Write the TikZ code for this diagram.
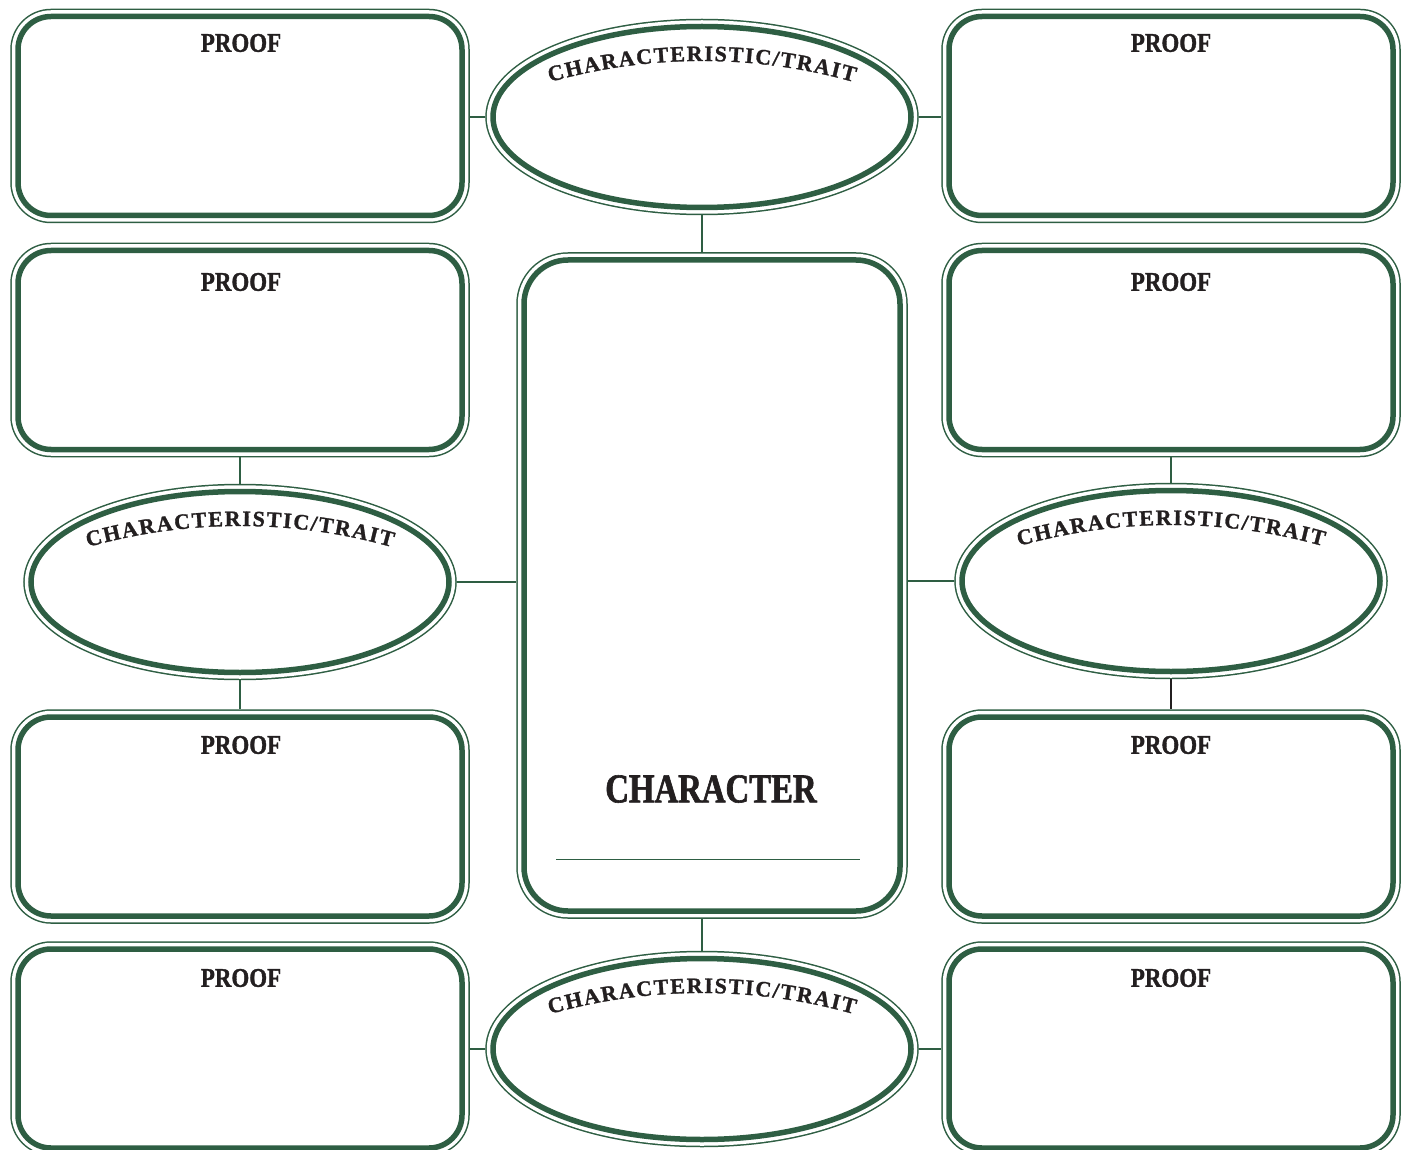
\documentclass[tikz,border=0pt]{standalone}
\usepackage{fontspec}
\usetikzlibrary{shapes.geometric,decorations.text}
\newfontfamily\stencilfont{Liberation Serif}[FakeStretch=0.85,FakeBold=1.2]
\newfontfamily\bigstencilfont{Liberation Serif}[FakeStretch=0.8,FakeBold=1.5]
\newfontfamily\arcfont{Liberation Serif}[FakeBold=1.2]
\definecolor{tg}{RGB}{46,94,67}
\definecolor{ink}{RGB}{35,31,32}
\tikzset{
  dbl/.style={fill=white, draw=tg, line width=5.5pt, outer sep=7.75pt,
    preaction={draw=tg, line width=15.5pt},
    preaction={draw=white, line width=12.5pt}},
  proofbox/.style={dbl, rectangle, rounded corners=33pt, minimum width=444pt, minimum height=199pt, inner sep=0pt},
  traitell/.style={dbl, ellipse, minimum width=418pt, minimum height=181pt, inner sep=0pt},
  charbox/.style={dbl, rectangle, rounded corners=44pt, minimum width=376pt, minimum height=651pt, inner sep=0pt},
  link/.style={draw=tg, line width=1.8pt},
  darklink/.style={draw=ink, line width=1.8pt},
  prooflbl/.style={text=ink, inner sep=0pt, font=\stencilfont\bfseries\fontsize{27}{27}\selectfont},
  charlbl/.style={text=ink, inner sep=0pt, font=\bigstencilfont\bfseries\fontsize{41}{41}\selectfont},
  arctext/.style={decorate, decoration={text along path, text align=center,
    text={|\arcfont\bfseries\fontsize{22}{24}\selectfont\color{ink}|{C\kern1.6pt}{H\kern1.6pt}{A\kern1.6pt}{R\kern1.6pt}{A\kern1.6pt}{C\kern1.6pt}{T\kern1.6pt}{E\kern1.6pt}{R\kern1.6pt}{I\kern1.6pt}{S\kern1.6pt}{T\kern1.6pt}{I\kern1.6pt}{C\kern1.6pt}{/\kern1.6pt}{T\kern1.6pt}{R\kern1.6pt}{A\kern1.6pt}{I\kern1.6pt}{T}}}}
}
\begin{document}
\begin{tikzpicture}[x=1pt,y=-1pt]
\clip (0,0) rectangle (1408,1150);
\fill[white] (0,0) rectangle (1408,1150);

% proof boxes
\node[proofbox] (l1) at (240,116) {};
\node[proofbox] (l2) at (240,350) {};
\node[proofbox] (l3) at (240,816.5) {};
\node[proofbox] (l4) at (240,1048.5) {};
\node[proofbox] (r1) at (1171,116) {};
\node[proofbox] (r2) at (1171,350) {};
\node[proofbox] (r3) at (1171,816.5) {};
\node[proofbox] (r4) at (1171,1048.5) {};

% central box
\node[charbox] (cb) at (712,585.5) {};

% ellipses
\node[traitell] (te) at (702,117) {};
\node[traitell] (le) at (240,582) {};
\node[traitell] (re) at (1171,581) {};
\node[traitell] (be) at (702,1049) {};

% connectors
\draw[link] (te.south) -- (te.south |- cb.north);
\draw[link] (cb.south -| be.north) -- (be.north);
\draw[link] (te.west) -- (te.west -| l1.east);
\draw[link] (te.east) -- (te.east -| r1.west);
\draw[link] (be.west) -- (be.west -| l4.east);
\draw[link] (be.east) -- (be.east -| r4.west);
\draw[link] (le.east) -- (le.east -| cb.west);
\draw[link] (re.west) -- (re.west -| cb.east);
\draw[link] (l2.south) -- (le.north);
\draw[link] (le.south) -- (l3.north);
\draw[link] (r2.south) -- (re.north);
\draw[darklink] (re.south) -- (r3.north);

% labels
\node[prooflbl] (l1t) at (241,43) {PROOF};
\node[prooflbl] (l2t) at (241,282) {PROOF};
\node[prooflbl] (l3t) at (241,745) {PROOF};
\node[prooflbl] (l4t) at (241,978) {PROOF};
\node[prooflbl] (r1t) at (1171,43) {PROOF};
\node[prooflbl] (r2t) at (1171,282) {PROOF};
\node[prooflbl] (r3t) at (1171,745) {PROOF};
\node[prooflbl] (r4t) at (1171,978) {PROOF};

\node[charlbl] (ct) at (711,789) {CHARACTER};
\coordinate (ul1) at (556,859);
\coordinate (ul2) at (860,859);
\draw[draw=tg, line width=1pt] (ul1) -- (ul2);

% curved labels
\path[arctext] ([xshift=-191.2pt, yshift=22.3pt]te.center) arc[start angle=110, end angle=70, radius=559pt];
\path[arctext] ([xshift=-191.2pt, yshift=22.3pt]le.center) arc[start angle=110, end angle=70, radius=559pt];
\path[arctext] ([xshift=-191.2pt, yshift=22.3pt]re.center) arc[start angle=110, end angle=70, radius=559pt];
\path[arctext] ([xshift=-191.2pt, yshift=22.3pt]be.center) arc[start angle=110, end angle=70, radius=559pt];
\end{tikzpicture}
\end{document}
